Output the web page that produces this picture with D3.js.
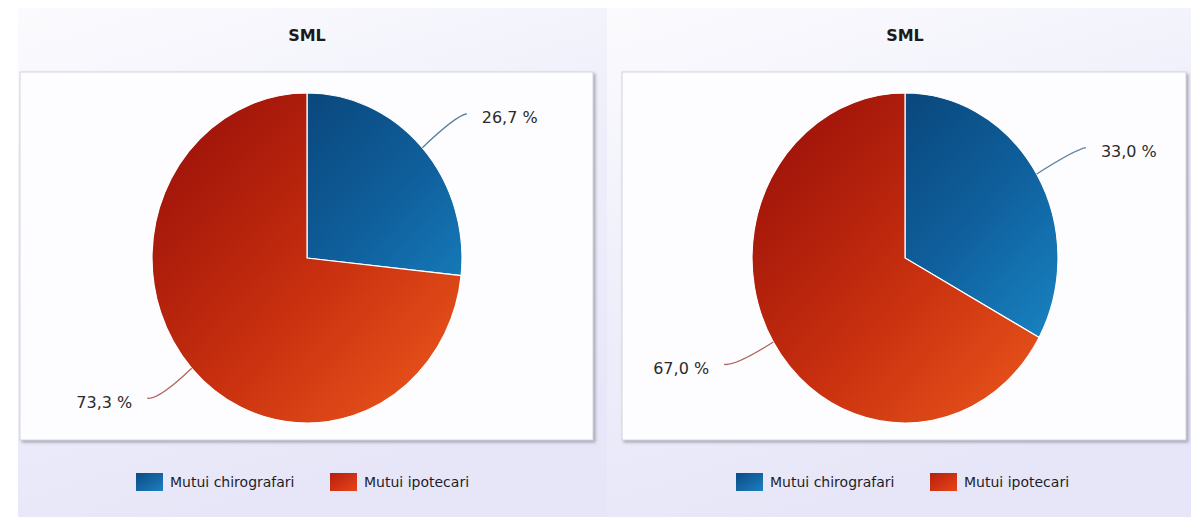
<!DOCTYPE html>
<html>
<head>
<meta charset="utf-8">
<script src="https://cdn.jsdelivr.net/npm/d3@7"></script>
<style>
  html, body { margin: 0; padding: 0; background: #ffffff; }
  svg { display: block; }
  text { font-family: "DejaVu Sans", Verdana, sans-serif; }
</style>
</head>
<body>
<svg id="chart" width="1191" height="517"></svg>
<script>
// Loan mix, two panels side by side
const categories = ["Mutui chirografari", "Mutui ipotecari"];
const panelTitles = ["SML", "SML"];
const leftValues = [26.7, 73.3];
const rightValues = [33.0, 67.0];

const svg = d3.select("#chart");
const defs = svg.append("defs");

// shared paint
const bg = defs.append("linearGradient").attr("id", "panelBg")
  .attr("x1", 0).attr("y1", 0).attr("x2", 0.35).attr("y2", 1);
bg.append("stop").attr("offset", 0).attr("stop-color", "#fbfbfe");
bg.append("stop").attr("offset", 0.45).attr("stop-color", "#f0f0fb");
bg.append("stop").attr("offset", 1).attr("stop-color", "#e6e6f8");

const shadow = defs.append("filter").attr("id", "boxShadow")
  .attr("x", -0.05).attr("y", -0.05).attr("width", 1.1).attr("height", 1.1);
shadow.append("feDropShadow").attr("dx", 2).attr("dy", 2).attr("stdDeviation", 1.5)
  .attr("flood-color", "#8e8e9e").attr("flood-opacity", 0.75);

const sliceStops = [
  ["#083f72", "#0f5f9c", "#1b8ccc"],
  ["#a3160a", "#c8300f", "#ea561c"]
];
const legendStops = [
  ["#0b4b84", "#1d7fc0"],
  ["#b51f0c", "#e8461a"]
];
const connectorColors = ["#5d84a6", "#b0685c"];

legendStops.forEach((s, i) => {
  const g = defs.append("linearGradient").attr("id", "leg" + i)
    .attr("x1", 0).attr("y1", 0).attr("x2", 1).attr("y2", 1);
  g.append("stop").attr("offset", 0).attr("stop-color", s[0]);
  g.append("stop").attr("offset", 1).attr("stop-color", s[1]);
});

const fmt = v => v.toFixed(1).replace(".", ",") + " %";

const panels = [
  { id: "a", title: panelTitles[0], values: leftValues,
    bg: [18, 8, 589, 509], box: [20, 72, 573, 368], cx: 307, cy: 258, rx: 155, ry: 165,
    legendX: [136, 330] },
  { id: "b", title: panelTitles[1], values: rightValues,
    bg: [607, 8, 584, 509], box: [622, 72, 564, 368], cx: 905, cy: 258, rx: 153, ry: 165,
    legendX: [736, 930] }
];

const pie = d3.pie().sort(null).value(d => d);

panels.forEach(p => {
  const g = svg.append("g");

  g.append("rect")
    .attr("x", p.bg[0]).attr("y", p.bg[1]).attr("width", p.bg[2]).attr("height", p.bg[3])
    .attr("fill", "url(#panelBg)");

  g.append("rect")
    .attr("x", p.box[0]).attr("y", p.box[1]).attr("width", p.box[2]).attr("height", p.box[3])
    .attr("fill", "#fdfdff").attr("stroke", "#d4d4dc").attr("stroke-width", 1)
    .attr("filter", "url(#boxShadow)");

  g.append("text")
    .attr("x", p.cx).attr("y", 35)
    .attr("text-anchor", "middle").attr("dominant-baseline", "central")
    .attr("font-family", "'DejaVu Sans Condensed', 'DejaVu Sans', sans-serif")
    .attr("font-weight", "bold").attr("font-size", 16).attr("fill", "#1a1a1a")
    .text(p.title);

  // slice gradients across the pie's bounding square
  sliceStops.forEach((s, i) => {
    const lg = defs.append("linearGradient").attr("id", `slice-${p.id}-${i}`)
      .attr("gradientUnits", "userSpaceOnUse")
      .attr("x1", p.cx - p.rx).attr("y1", p.cy - p.ry)
      .attr("x2", p.cx + p.rx).attr("y2", p.cy + p.ry);
    lg.append("stop").attr("offset", 0.15).attr("stop-color", s[0]);
    lg.append("stop").attr("offset", 0.55).attr("stop-color", s[1]);
    lg.append("stop").attr("offset", 0.95).attr("stop-color", s[2]);
  });

  const arcs = pie(p.values);
  const arc = d3.arc().innerRadius(0).outerRadius(p.ry);
  const sx = p.rx / p.ry;

  // slices are drawn on a circle then squeezed horizontally
  const pieG = g.append("g")
    .attr("transform", `translate(${p.cx},${p.cy}) scale(${sx},1)`);
  pieG.selectAll("path.slice")
    .data(arcs)
    .join("path")
    .attr("class", "slice")
    .attr("d", arc)
    .attr("fill", (d, i) => `url(#slice-${p.id}-${i})`)
    .attr("stroke", "#ffffff").attr("stroke-width", 1.2)
    .attr("vector-effect", "non-scaling-stroke")
    .attr("transform", `translate(0,0)`);

  // re-anchor the gradient to the squeezed frame
  pieG.selectAll("path.slice").each(function (d, i) {
    d3.select(`#slice-${p.id}-${i}`)
      .attr("x1", -p.ry).attr("y1", -p.ry).attr("x2", p.ry).attr("y2", p.ry);
  });

  // value labels with curved leader lines
  arcs.forEach((d, i) => {
    const a = (d.startAngle + d.endAngle) / 2;
    const s = Math.sin(a), c = Math.cos(a);
    const side = s >= 0 ? 1 : -1;
    const p0 = [p.cx + p.rx * s, p.cy - p.ry * c];
    const k = 1.29;
    const p1 = [p.cx + p.rx * k * s, p.cy - p.ry * k * c];
    const p2 = [p1[0] + side * 11, p1[1] - 2];
    g.append("path")
      .attr("d", `M${p0[0]},${p0[1]} Q${p1[0]},${p1[1]} ${p2[0]},${p2[1]}`)
      .attr("fill", "none")
      .attr("stroke", connectorColors[i]).attr("stroke-width", 1.3);
    g.append("text")
      .attr("x", p2[0] + side * 15).attr("y", p2[1] + 4)
      .attr("text-anchor", side > 0 ? "start" : "end")
      .attr("dominant-baseline", "central")
      .attr("font-size", 16).attr("fill", "#2b2b2b")
      .text(fmt(d.data));
  });

  // legend
  categories.forEach((name, i) => {
    const lx = p.legendX[i];
    g.append("rect")
      .attr("x", lx).attr("y", 473).attr("width", 27).attr("height", 18)
      .attr("fill", `url(#leg${i})`);
    g.append("text")
      .attr("x", lx + 34).attr("y", 482)
      .attr("dominant-baseline", "central")
      .attr("font-size", 14).attr("fill", "#1e1e2a")
      .text(name);
  });
});
</script>
</body>
</html>
